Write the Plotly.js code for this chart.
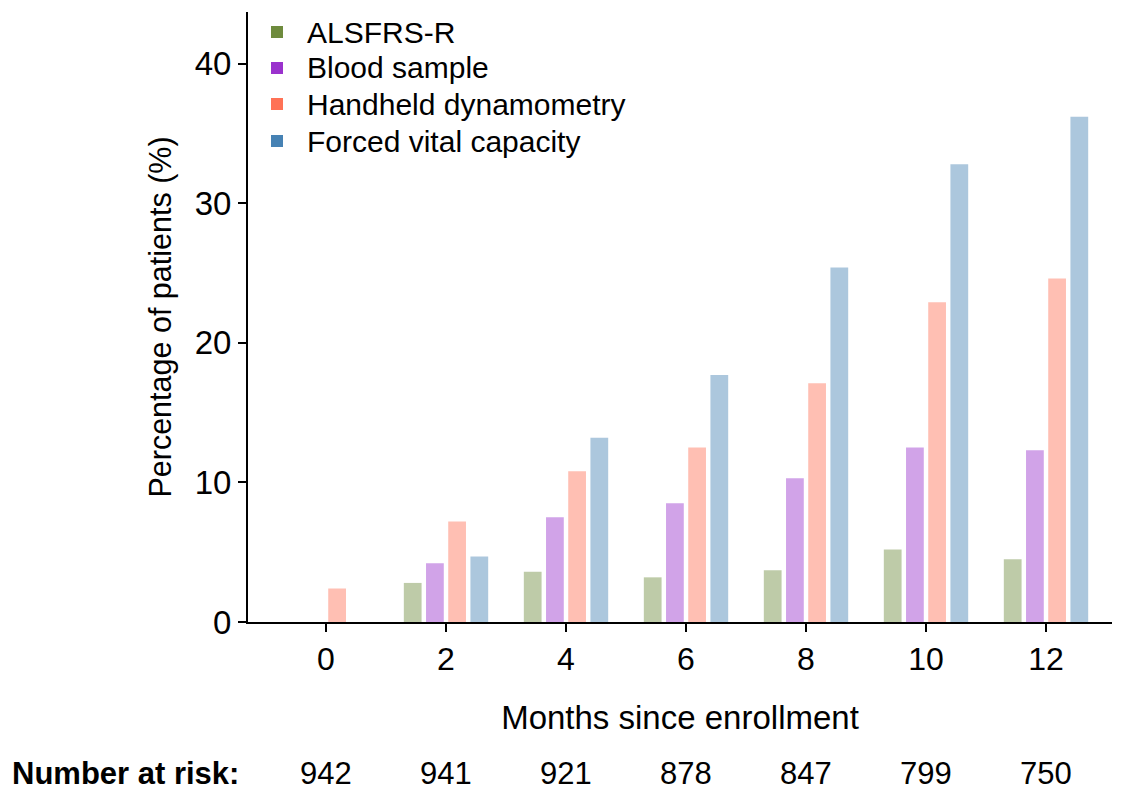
<!DOCTYPE html>
<html>
<head>
<meta charset="utf-8">
<script src="https://cdn.plot.ly/plotly-3.0.1.min.js"></script>
<style>html,body{margin:0;padding:0;background:#fff;}#chart{width:1124px;height:790px;}</style>
</head>
<body>
<div id="chart"></div>
<script>
// Data
var months = [0, 2, 4, 6, 8, 10, 12];
var seriesNames = ["ALSFRS-R", "Blood sample", "Handheld dynamometry", "Forced vital capacity"];
var alsfrs = [null, 2.8, 3.6, 3.2, 3.7, 5.2, 4.5];
var blood = [null, 4.2, 7.5, 8.5, 10.3, 12.5, 12.3];
var hhd = [2.4, 7.2, 10.8, 12.5, 17.1, 22.9, 24.6];
var fvc = [null, 4.7, 13.2, 17.7, 25.4, 32.8, 36.2];
var numberAtRisk = [942, 941, 921, 878, 847, 799, 750];
var yTicks = [0, 10, 20, 30, 40];

var baseColors = ["110,139,61", "154,50,205", "255,114,86", "70,130,180"];
var seriesValues = [alsfrs, blood, hhd, fvc];

var FONT = "Liberation Sans, Arial, Helvetica, sans-serif";
var traces = [];
seriesValues.forEach(function (vals, i) {
  traces.push({
    type: "bar",
    x: months,
    y: vals,
    name: seriesNames[i],
    showlegend: false,
    marker: { color: "rgba(" + baseColors[i] + ",0.45)", line: { width: 0 } },
    hoverinfo: "x+y+name"
  });
});

// plot area geometry (pixels) used to place the hand-built legend
var W = 1124, H = 790, ML = 248, MR = 12, MT = 12, MB = 168;
var PW = W - ML - MR, PH = H - MT - MB;
function px2paperX(px) { return (px - ML) / PW; }
function px2paperY(py) { return (H - MB - py) / PH; }

var annotations = [];
var shapes = [];
// legend: squares + labels
var legendRowY = [32, 68, 104, 141];
seriesNames.forEach(function (name, i) {
  var cy = legendRowY[i];
  shapes.push({
    type: "rect", xref: "paper", yref: "paper",
    x0: px2paperX(271), x1: px2paperX(283),
    y0: px2paperY(cy + 6), y1: px2paperY(cy - 6),
    fillcolor: "rgb(" + baseColors[i] + ")", line: { width: 0 }
  });
  annotations.push({
    xref: "paper", yref: "paper",
    x: px2paperX(305), y: px2paperY(cy),
    text: name, showarrow: false,
    xanchor: "left", yanchor: "middle",
    font: { family: FONT, size: 30, color: "#000" }
  });
});

numberAtRisk.forEach(function (n, i) {
  annotations.push({
    xref: "x", yref: "paper",
    x: months[i], y: px2paperY(773),
    text: String(n),
    showarrow: false,
    xanchor: "center", yanchor: "middle",
    font: { family: FONT, size: 31, color: "#000" }
  });
});
annotations.push({
  xref: "paper", yref: "paper",
  x: px2paperX(10), y: px2paperY(773),
  text: "<b>Number at risk:</b>",
  showarrow: false,
  xanchor: "left", yanchor: "middle",
  font: { family: FONT, size: 31, color: "#000" }
});

var layout = {
  width: W,
  height: H,
  margin: { l: ML, r: MR, t: MT, b: MB },
  paper_bgcolor: "#fff",
  plot_bgcolor: "#fff",
  font: { family: FONT, color: "#000" },
  barmode: "group",
  bargap: 0.26,
  bargroupgap: 0.2,
  showlegend: false,
  xaxis: {
    range: [-1.3, 13.1],
    tickvals: months,
    ticktext: months.map(String),
    ticks: "outside", ticklen: 8, tickwidth: 2, tickcolor: "#000",
    showline: true, linecolor: "#000", linewidth: 2,
    showgrid: false, zeroline: false,
    tickfont: { family: FONT, size: 32, color: "#000" },
    title: { text: "Months since enrollment", font: { family: FONT, size: 33, color: "#000" }, standoff: 29 }
  },
  yaxis: {
    range: [0, 43.7],
    tickvals: yTicks,
    ticks: "outside", ticklen: 8, tickwidth: 2, tickcolor: "#000",
    showline: true, linecolor: "#000", linewidth: 2,
    showgrid: false, zeroline: false,
    tickfont: { family: FONT, size: 33, color: "#000" },
    title: { text: "Percentage of patients (%)", font: { family: FONT, size: 30.5, color: "#000" }, standoff: 14 }
  },
  shapes: shapes,
  annotations: annotations
};

Plotly.newPlot("chart", traces, layout, { displayModeBar: false, staticPlot: true });
</script>
</body>
</html>
